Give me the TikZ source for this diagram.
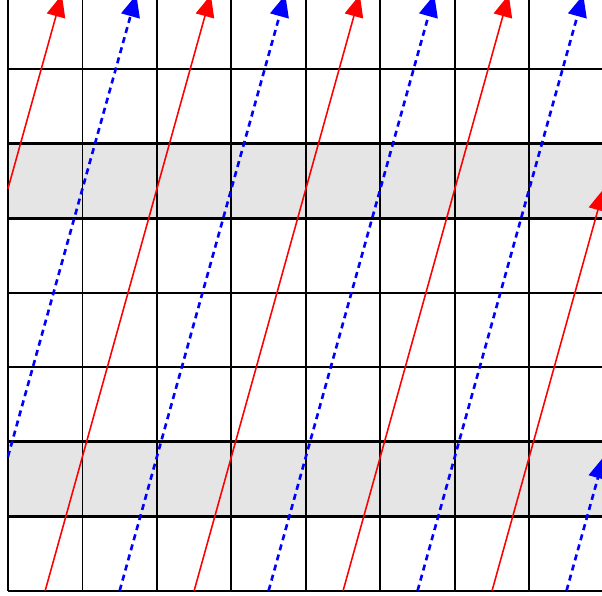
\documentclass[tikz,border=0pt]{standalone}
\usepackage{tikz}
\usetikzlibrary{arrows.meta}

\begin{document}
\begin{tikzpicture}[>={Triangle[length=8.4pt,width=7.2pt]},
    luoi/.style={line width=0.7pt},
    bien/.style={line width=1.1pt},
    duongdo/.style={->, red, line width=0.6pt},
    duongxanh/.style={->, blue, line width=1pt, dash pattern=on 2.3pt off 1.7pt}]
    \useasboundingbox (-0.107,-0.072) rectangle (7.976,7.93);
    \clip (-0.107,-0.072) rectangle (7.976,7.93);
    \def\hs{0.278}

    % 1. Hai dải tô xám
    \fill[gray!20] (0,1) rectangle (8,2);
    \fill[gray!20] (0,5) rectangle (8,6);

    % 2. Lưới ô vuông 8x8
    \foreach \i in {0,...,8} {
        \draw[luoi] (\i,0) -- (\i,8);
        \draw[luoi] (0,\i) -- (8,\i);
    }
    % Viền đậm của hai dải
    \foreach \j in {1,2,5,6}
        \draw[bien] (0,\j) -- (8,\j);

    % 3. Các đường đỏ (liền) và xanh (nét đứt) song song
    \foreach \k in {0,1,2} {
        \draw[duongdo] ({0.5+2*\k},0) -- ++({8*\hs},8);
        \draw[duongxanh] ({1.5+2*\k},0) -- ++({8*\hs},8);
    }

    % Đường đỏ cuối: ra ở mép phải, vào lại ở mép trái
    \draw[duongdo] (6.5,0) -- (8,{1.5/\hs});
    \draw[duongdo] (0,{1.5/\hs}) -- ({(8-1.5/\hs)*\hs},8);

    % Đường xanh cuối: ra ở mép phải, vào lại ở mép trái
    \draw[duongxanh] (7.5,0) -- (8,{0.5/\hs});
    \draw[duongxanh] (0,{0.5/\hs}) -- ({(8-0.5/\hs)*\hs},8);

\end{tikzpicture}
\end{document}
